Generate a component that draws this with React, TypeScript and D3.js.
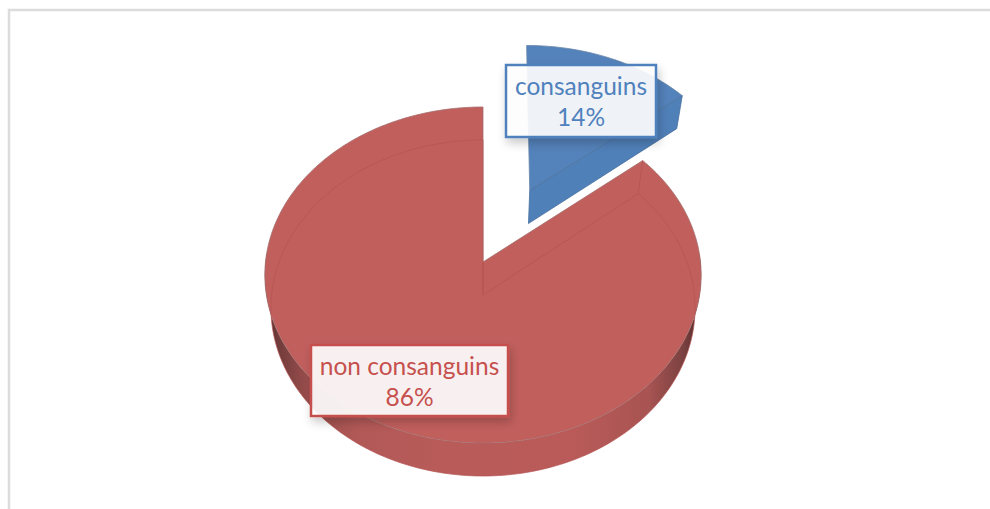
import React from "react";
import * as d3 from "d3";

// Pie content
const categories = ["consanguins", "non consanguins"];
const shares = [14, 86];
const percentLabels = ["14%", "86%"];

const WIDTH = 990;
const HEIGHT = 509;

// Perspective pie: a unit disc in its own plane is projected on to the screen.
const APEX_X = 483;
const APEX_Y = 262;
const SCALE_X = 217.5;
const SCALE_Y = 167;
const PERSPECTIVE = 0.0774;
const DEPTH = 33;
const BASE_SHRINK = 0.972;
const EXPLODE = 0.5;
const BLUE_NUDGE_X = 2;
const BLUE_NUDGE_Y = 1.5;

type Pt = [number, number];

function project(px: number, py: number, lower: boolean): Pt {
  const w = 1 + PERSPECTIVE * py;
  const shrink = lower ? BASE_SHRINK : 1;
  return [
    APEX_X + (SCALE_X * px * shrink) / w,
    APEX_Y - (SCALE_Y * py) / w + (lower ? DEPTH : 0),
  ];
}

function arcPoints(a0: number, a1: number, ox: number, oy: number, lower: boolean): Pt[] {
  const n = Math.max(2, Math.ceil(Math.abs(a1 - a0) / 0.02));
  return d3.range(n + 1).map((i) => {
    const a = a0 + ((a1 - a0) * i) / n;
    return project(ox + Math.sin(a), oy + Math.cos(a), lower);
  });
}

const line = d3.line<Pt>();
const closed = (pts: Pt[]) => (line(pts) ?? "") + "Z";

const slices = d3
  .pie<number>()
  .sort(null)
  .startAngle(0)
  .endAngle(2 * Math.PI)(shares);

const blue = slices[0];
const red = slices[1];
const mid = (blue.startAngle + blue.endAngle) / 2;
const bx = EXPLODE * Math.sin(mid);
const by = EXPLODE * Math.cos(mid);

// Exploded slice
const blueApexTop = project(bx, by, false);
const blueApexLow = project(bx, by, true);
const blueRimTop = arcPoints(blue.startAngle, blue.endAngle, bx, by, false);
const blueRimLow = arcPoints(blue.startAngle, blue.endAngle, bx, by, true);
const blueTipTop = blueRimTop[blueRimTop.length - 1];
const blueTipLow = blueRimLow[blueRimLow.length - 1];

// Main slice
const redApexTop = project(0, 0, false);
const redApexLow = project(0, 0, true);
const redRimTop = arcPoints(red.startAngle, red.endAngle, 0, 0, false);
const redRimLow = arcPoints(red.startAngle, red.endAngle, 0, 0, true);
const wallTop = arcPoints(Math.PI / 2 - 0.05, (3 * Math.PI) / 2 + 0.05, 0, 0, false);
const wallLow = arcPoints(Math.PI / 2 - 0.05, (3 * Math.PI) / 2 + 0.05, 0, 0, true);

type LabelBox = {
  x: number;
  y: number;
  w: number;
  h: number;
  color: string;
  fill: string;
  name: string;
  pct: string;
};

const labelBoxes: LabelBox[] = [
  { x: 506, y: 65, w: 150, h: 72, color: "#4f81bd", fill: "rgba(255,255,255,0.9)", name: categories[0], pct: percentLabels[0] },
  { x: 311, y: 345, w: 197, h: 71, color: "#c6504e", fill: "rgba(255,255,255,0.9)", name: categories[1], pct: percentLabels[1] },
];

export default function App() {
  return (
    <svg
      width={WIDTH}
      height={HEIGHT}
      style={{ position: "fixed", left: 0, top: 0, background: "#fff" }}
    >
      <defs>
        <linearGradient id="wall" gradientUnits="userSpaceOnUse" x1={264} x2={701} y1={0} y2={0}>
          <stop offset={0} stopColor="#4f2a2a" />
          <stop offset={0.03} stopColor="#6f3b3a" />
          <stop offset={0.1} stopColor="#9a4e4c" />
          <stop offset={0.22} stopColor="#b25957" />
          <stop offset={0.4} stopColor="#b85b59" />
          <stop offset={0.7} stopColor="#ba5b59" />
          <stop offset={0.88} stopColor="#a85452" />
          <stop offset={0.96} stopColor="#7a4140" />
          <stop offset={1} stopColor="#4f2a2a" />
        </linearGradient>
        <filter id="boxShadow" x="-15%" y="-25%" width="130%" height="160%">
          <feDropShadow dx={2} dy={5} stdDeviation={5} floodColor="#000" floodOpacity={0.22} />
        </filter>
      </defs>

      {/* Frame */}
      <path d="M9,509V10H990" fill="none" stroke="#dcdcdc" strokeWidth={2.5} />

      {/* Exploded slice: base, cut face, top */}
      <g transform={`translate(${BLUE_NUDGE_X},${BLUE_NUDGE_Y})`}>
        <path d={closed([blueApexTop, ...blueRimTop])} fill="#5482ba" stroke="#6a87a8" strokeWidth={0.8} />
        <path d={closed([blueApexTop, blueTipTop, blueTipLow, blueApexLow])} fill="#5080b8" stroke="#47709f" strokeWidth={0.8} />
      </g>

      {/* Main slice: side wall and top */}
      <path d={closed([...wallTop, ...[...wallLow].reverse()])} fill="url(#wall)" />
      <path d={closed([redApexTop, ...redRimTop])} fill="#c15f5d" stroke="#a5706e" strokeWidth={0.8} />

      {/* Base outline showing through the translucent top */}
      <path
        d={line([redApexTop, redApexLow, ...redRimLow, redApexLow]) ?? ""}
        fill="none"
        stroke="#b55351"
        strokeWidth={0.7}
      />
      <path
        d={line([redRimTop[0], redRimLow[0]]) ?? ""}
        fill="none"
        stroke="#b55351"
        strokeWidth={0.7}
      />

      {/* Data labels */}
      {labelBoxes.map((b) => (
        <g key={b.name}>
          <rect x={b.x} y={b.y} width={b.w} height={b.h} fill={b.fill} stroke={b.color} strokeWidth={2.5} filter="url(#boxShadow)" />
          <text
            x={b.x + b.w / 2}
            y={b.y + 30}
            textAnchor="middle"
            fontFamily="Lato, 'Open Sans', sans-serif"
            fontSize={24.5}
            fill={b.color}
          >
            {b.name}
          </text>
          <text
            x={b.x + b.w / 2}
            y={b.y + 61}
            textAnchor="middle"
            fontFamily="Lato, 'Open Sans', sans-serif"
            fontSize={24.5}
            fill={b.color}
          >
            {b.pct}
          </text>
        </g>
      ))}
    </svg>
  );
}
